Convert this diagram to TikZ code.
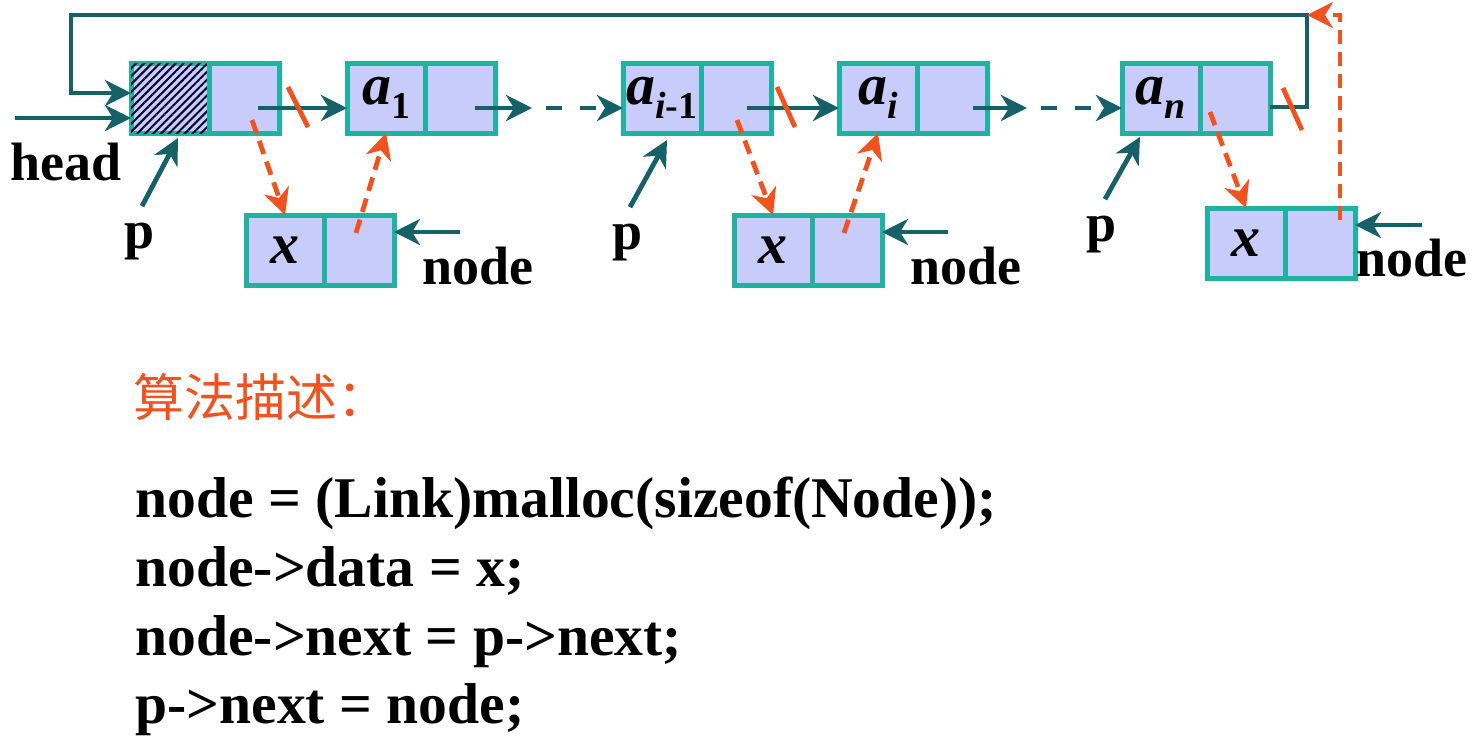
\documentclass[tikz,border=0pt]{standalone}
\usepackage{fontspec}
\setmainfont{Liberation Serif}
\newfontfamily\cjk{Noto Sans CJK SC}
\usetikzlibrary{calc,positioning,arrows.meta,patterns.meta}

\definecolor{cellline}{RGB}{32,178,160}
\definecolor{cellfill}{RGB}{200,204,250}
\definecolor{linkcol}{RGB}{22,96,104}
\definecolor{newcol}{RGB}{242,82,30}

\newcommand\idx[1]{\raisebox{-7pt}{\fontsize{19}{19}\selectfont\bfseries\upshape #1}}

\tikzset{
  datacell/.style={draw=cellline,fill=cellfill,line width=2.5pt,
    minimum width=39pt,minimum height=35pt,inner sep=0pt,outer sep=0pt,
    font=\fontsize{29}{29}\selectfont\bfseries\itshape},
  ptrcell/.style={datacell,minimum width=35pt},
  link/.style={linkcol,line width=2.4pt,-{Stealth[length=13pt,width=13pt,inset=4pt]}},
  newlink/.style={newcol,line width=2.4pt,dash pattern=on 7pt off 4pt,
    -{Stealth[length=13pt,width=13pt,inset=4pt]}},
  cut/.style={newcol,line width=2.4pt},
  lbl/.style={inner sep=0pt,font=\fontsize{27}{27}\selectfont\bfseries},
  code/.style={anchor=base west,inner sep=0pt,font=\fontsize{28.8}{28.8}\selectfont\bfseries}
}

\begin{document}
\begin{tikzpicture}[x=0.5pt,y=-0.5pt]
  \useasboundingbox[fill=white] (0,0) rectangle (1472,746);

  % list cells
  \node[datacell,postaction={pattern={Lines[angle=45,distance=2.8pt,line width=1pt]},
        pattern color=black!85!blue}] (hd) at (170,98) {};
  \node[ptrcell,right=0pt of hd] (hp) {};
  \node[datacell] (a1d) at (386,98) {a\idx{1}};
  \node[ptrcell,right=0pt of a1d] (a1p) {};
  \node[datacell] (pd) at (662,98) {a\idx{\itshape i\upshape -1}};
  \node[ptrcell,right=0pt of pd] (pp) {};
  \node[datacell] (qd) at (878,98) {a\idx{\itshape i}};
  \node[ptrcell,right=0pt of qd] (qp) {};
  \node[datacell] (nd) at (1161,98) {a\idx{\itshape n}};
  \node[ptrcell,right=0pt of nd] (np) {};

  % new cells
  \node[datacell] (x1d) at (285,250) {x};
  \node[ptrcell,right=0pt of x1d] (x1p) {};
  \node[datacell] (x2d) at (773,250) {x};
  \node[ptrcell,right=0pt of x2d] (x2p) {};
  \node[datacell] (x3d) at (1246,243) {x};
  \node[ptrcell,right=0pt of x3d] (x3p) {};

  % head and loop back
  \coordinate (headin) at (15,118);
  \coordinate (loopr) at (1307,15);
  \coordinate (loopl) at (71,15);
  \node[lbl] (head) at (66,162) {head};
  \draw[link] (headin) -- ($(hd.west)+(0,20)$);
  \draw[link] ($(np.east)+(0,9)$) -| (loopr) -- (loopl) |- ($(hd.west)+(0,-5)$);

  % next links
  \coordinate (gapa) at (532,108);
  \coordinate (gapb) at (1027,108);
  \draw[link] ($(hp.center)+(14,10)$) -- ($(a1d.west)+(0,10)$);
  \draw[link] ($(a1p.center)+(15,10)$) -- (gapa);
  \draw[link,dash pattern=on 8pt off 9pt] ($(gapa)+(14,0)$) -- ($(pd.west)+(0,10)$);
  \draw[link] ($(pp.center)+(11,10)$) -- ($(qd.west)+(0,10)$);
  \draw[link] ($(qp.center)+(21,10)$) -- (gapb);
  \draw[link,dash pattern=on 8pt off 9pt] ($(gapb)+(14,0)$) -- ($(nd.west)+(0,10)$);

  % cut old links
  \draw[cut] ($(hp.east)+(9,-11)$) -- ++(20,40);
  \draw[cut] ($(pp.east)+(6,-11)$) -- ++(18,40);
  \draw[cut] ($(np.east)+(13,-10)$) -- ++(19,42);

  % new links
  \draw[newlink] ($(hp.center)+(8,22)$) -- (x1d.north);
  \draw[newlink] ($(x1p.center)+(-3,-17)$) -- (a1d.south);
  \draw[newlink] ($(pp.center)+(1,22)$) -- (x2d.north);
  \draw[newlink] ($(x2p.center)+(-3,-17)$) -- (qd.south);
  \draw[newlink] ($(np.center)+(-25,14)$) -- (x3d.north);
  \draw[newlink] ($(x3p.center)+(20,-23)$) |- (loopr);

  % p pointers
  \node[lbl] (p1) at (140,242) {p};
  \node[lbl] (p2) at (628,243) {p};
  \node[lbl] (p3) at (1102,235) {p};
  \draw[link] ($(p1.north)+(2,-17)$) -- ($(hd.south)+(8,5)$);
  \draw[link] ($(p2.north)+(2,-17)$) -- ($(pd.south)+(5,7)$);
  \draw[link] ($(p3.north)+(3,-17)$) -- ($(nd.south)+(-21,4)$);

  % node pointers
  \node[lbl] (n1) at (478,266) {node};
  \node[lbl] (n2) at (966,266) {node};
  \node[lbl] (n3) at (1412,258) {node};
  \coordinate (n1t) at (460,232);
  \coordinate (n2t) at (948,232);
  \coordinate (n3t) at (1422,225);
  \draw[link] (n1t) -- ($(x1p.east)+(0,-18)$);
  \draw[link] (n2t) -- ($(x2p.east)+(0,-18)$);
  \draw[link] (n3t) -- ($(x3p.east)+(0,-18)$);

  % algorithm
  \node[anchor=west,inner sep=0pt,text=newcol,font=\cjk\fontsize{25.5}{25.5}\selectfont]
    (title) at (133,397) {算法描述：};
  \node[code] (l1) at (135,517) {node = (Link)malloc(sizeof(Node));};
  \node[code] (l2) at (135,586) {node->data = x;};
  \node[code] (l3) at (135,655) {node->next = p->next;};
  \node[code] (l4) at (135,723) {p->next = node;};
\end{tikzpicture}
\end{document}
